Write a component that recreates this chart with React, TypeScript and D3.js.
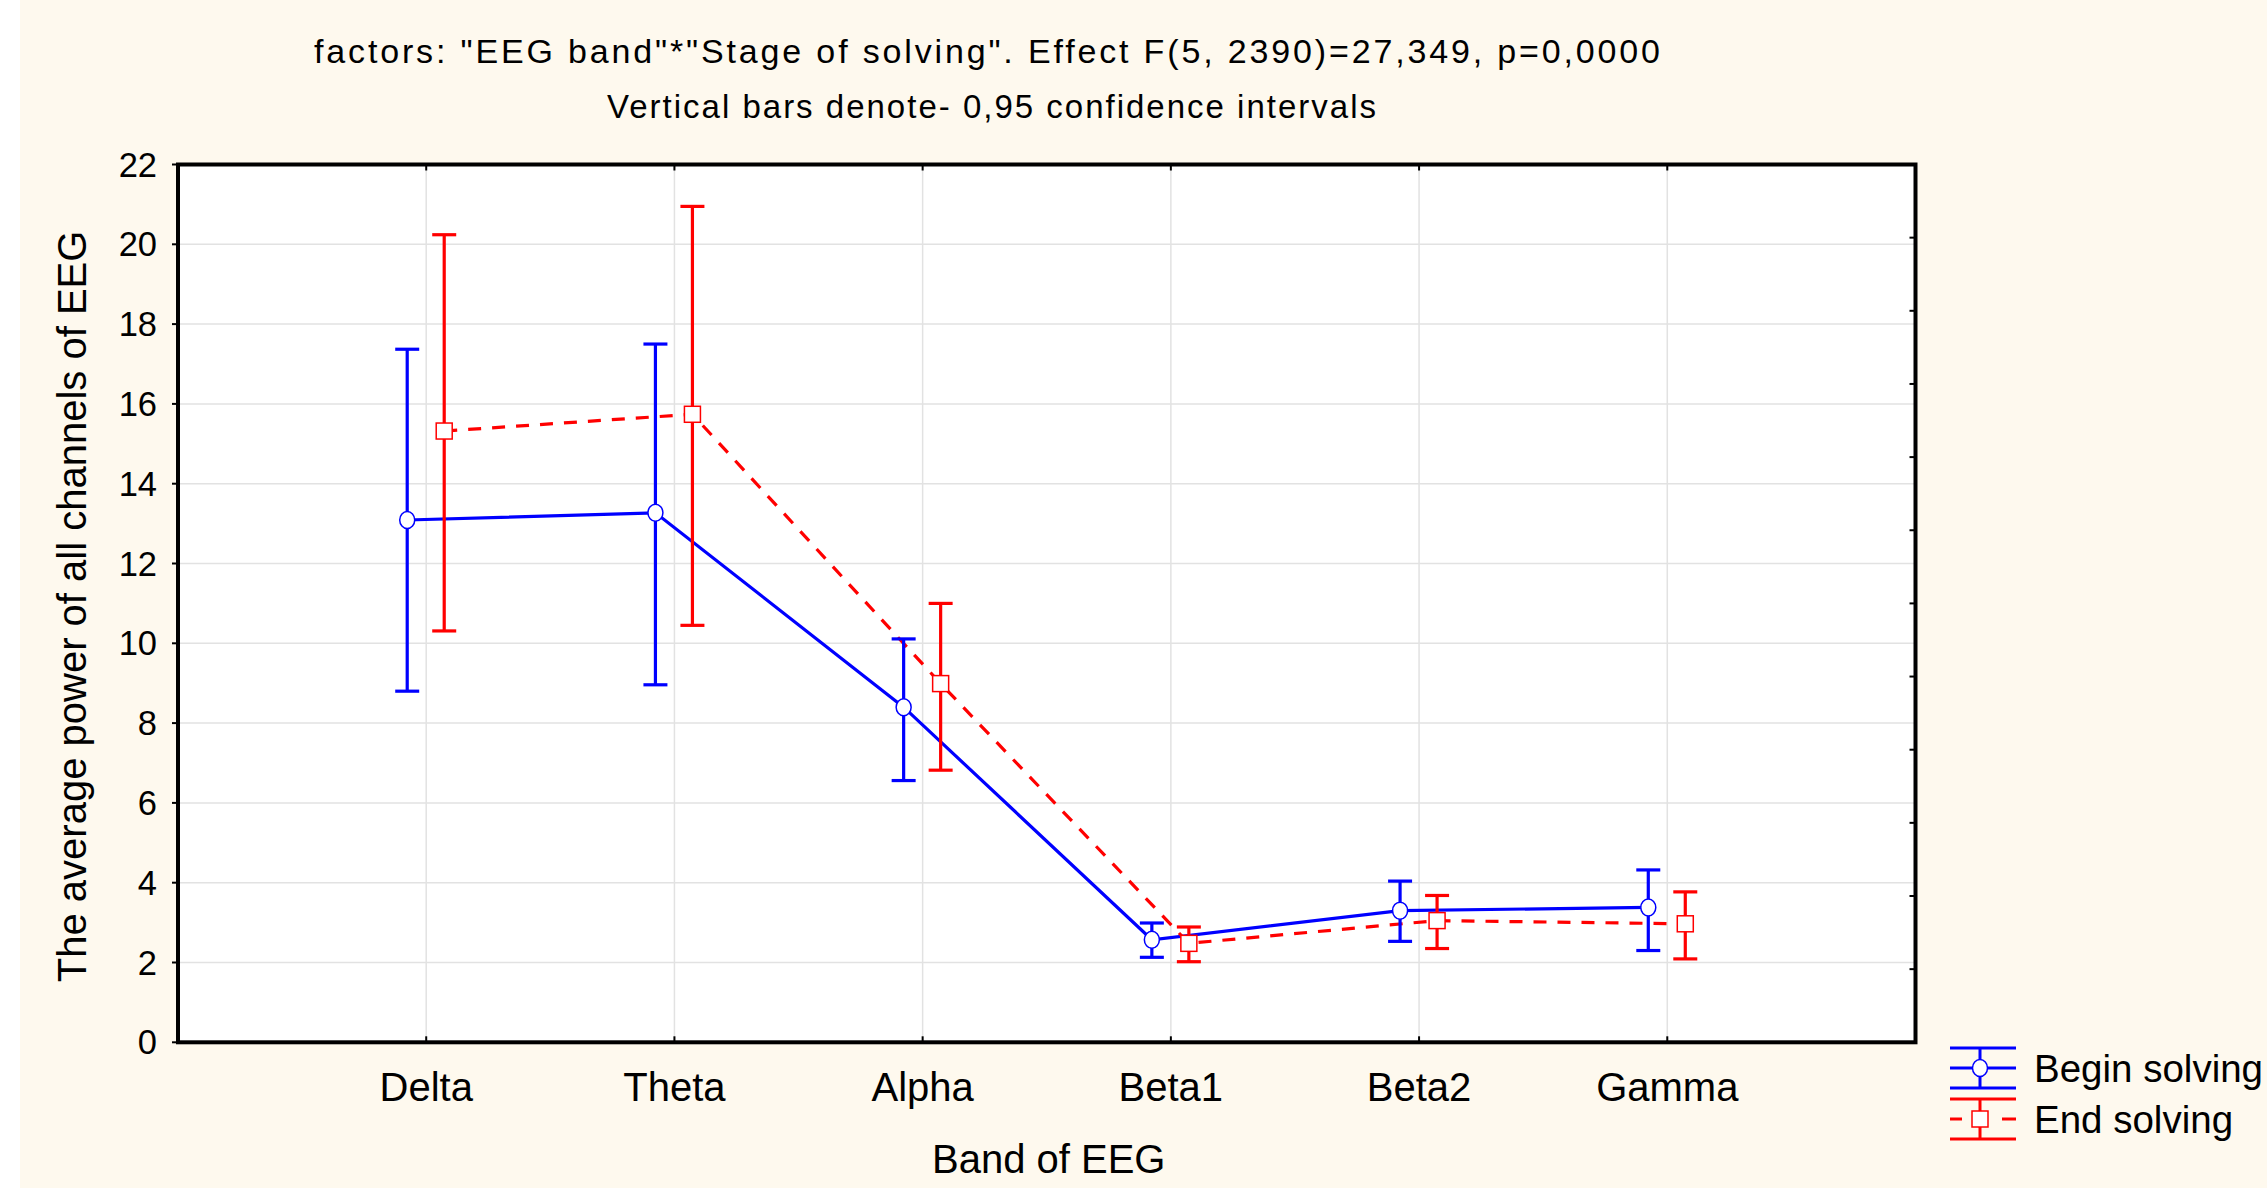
import React from "react";
import * as d3 from "d3";

// values
const bands = ["Delta", "Theta", "Alpha", "Beta1", "Beta2", "Gamma"];
const beginMean = [13.09, 13.27, 8.4, 2.57, 3.3, 3.38];
const beginLow = [8.8, 8.96, 6.56, 2.13, 2.53, 2.3];
const beginHigh = [17.37, 17.5, 10.11, 2.99, 4.04, 4.32];
const endMean = [15.32, 15.74, 8.99, 2.48, 3.05, 2.97];
const endLow = [10.31, 10.45, 6.82, 2.02, 2.35, 2.09];
const endHigh = [20.24, 20.95, 11.0, 2.89, 3.68, 3.77];
const yTicks = [0, 2, 4, 6, 8, 10, 12, 14, 16, 18, 20, 22];

const titleText = 'factors: "EEG band"*"Stage of solving". Effect F(5, 2390)=27,349, p=0,0000';
const subtitleText = "Vertical bars denote- 0,95 confidence intervals";
const xTitle = "Band of EEG";
const yTitle = "The average power of all channels of EEG";
const seriesNames = ["Begin solving", "End solving"];

const width = 2267;
const height = 1188;
const plot = { left: 178, right: 1915.5, top: 164.5, bottom: 1042.3 };
const font = "'Liberation Sans', Arial, sans-serif";
const BLUE = "#0000ff";
const RED = "#ff0000";

export default function App() {
  const x = d3
    .scalePoint<string>()
    .domain(bands)
    .range([plot.left, plot.right])
    .padding(1);
  const y = d3.scaleLinear().domain([0, 22]).range([plot.bottom, plot.top]);
  const yRight = d3.scaleLinear().domain([0, 12]).range([plot.bottom, plot.top]);

  const series = [
    { name: seriesNames[0], mean: beginMean, lo: beginLow, hi: beginHigh, color: BLUE, off: -19, dash: null, marker: "circle" },
    { name: seriesNames[1], mean: endMean, lo: endLow, hi: endHigh, color: RED, off: 18, dash: "13,11", marker: "square" },
  ];

  const line = (s: any) =>
    d3
      .line<number>()
      .x((_, i) => (x(bands[i]) as number) + s.off)
      .y((d) => y(d))(s.mean) as string;

  const capW = 12;

  const marker = (s: any, cx: number, cy: number, key: string) =>
    s.marker === "circle" ? (
      <ellipse key={key} cx={cx} cy={cy} rx={7.5} ry={8.5} fill="#fff" stroke={s.color} strokeWidth={1.5} />
    ) : (
      <rect key={key} x={cx - 8} y={cy - 8} width={16} height={16} fill="#fff" stroke={s.color} strokeWidth={1.5} />
    );

  return (
    <svg
      width={width}
      height={height}
      style={{ position: "absolute", left: 0, top: 0, display: "block" }}
      fontFamily={font}
    >
      <rect x={0} y={0} width={width} height={height} fill="#ffffff" />
      <rect x={20} y={0} width={width - 20} height={height} fill="#fef9ee" />

      {/* titles */}
      <text x={314} y={63} fontSize={34} fill="#000" textLength={1346} lengthAdjust="spacing">
        {titleText}
      </text>
      <text x={607} y={118} fontSize={33} fill="#000" textLength={769} lengthAdjust="spacing">
        {subtitleText}
      </text>

      {/* plot area */}
      <rect x={plot.left} y={plot.top} width={plot.right - plot.left} height={plot.bottom - plot.top} fill="#fff" />

      {/* grid */}
      {yTicks.slice(1, -1).map((t) => (
        <line key={"gy" + t} x1={plot.left} x2={plot.right} y1={y(t)} y2={y(t)} stroke="#e2e2e2" strokeWidth={1.5} />
      ))}
      {bands.map((b) => (
        <line key={"gx" + b} x1={x(b)} x2={x(b)} y1={plot.top} y2={plot.bottom} stroke="#e2e2e2" strokeWidth={1.5} />
      ))}

      {/* series lines */}
      {series.map((s) => (
        <path
          key={"l" + s.name}
          d={line(s)}
          fill="none"
          stroke={s.color}
          strokeWidth={3.2}
          strokeDasharray={s.dash || undefined}
        />
      ))}

      {/* error bars */}
      {series.map((s) =>
        bands.map((b, i) => {
          const cx = (x(b) as number) + s.off;
          return (
            <g key={"e" + s.name + b} stroke={s.color} strokeWidth={3.2}>
              <line x1={cx} x2={cx} y1={y(s.hi[i])} y2={y(s.lo[i])} />
              <line x1={cx - capW} x2={cx + capW} y1={y(s.hi[i])} y2={y(s.hi[i])} />
              <line x1={cx - capW} x2={cx + capW} y1={y(s.lo[i])} y2={y(s.lo[i])} />
            </g>
          );
        })
      )}

      {/* markers */}
      {series.map((s) =>
        bands.map((b, i) => marker(s, (x(b) as number) + s.off, y(s.mean[i]), "m" + s.name + b))
      )}

      {/* frame and ticks */}
      <rect
        x={plot.left}
        y={plot.top}
        width={plot.right - plot.left}
        height={plot.bottom - plot.top}
        fill="none"
        stroke="#000"
        strokeWidth={4}
      />
      {yTicks.map((t) => (
        <line key={"ty" + t} x1={plot.left - 6} x2={plot.left} y1={y(t)} y2={y(t)} stroke="#000" strokeWidth={2} />
      ))}
      {yRight.ticks(12).slice(1, -1).map((t) => (
        <line key={"tr" + t} x1={plot.right - 6} x2={plot.right} y1={yRight(t)} y2={yRight(t)} stroke="#000" strokeWidth={2} />
      ))}
      {bands.map((b) => (
        <g key={"tx" + b} stroke="#000" strokeWidth={2}>
          <line x1={x(b)} x2={x(b)} y1={plot.bottom} y2={plot.bottom - 6} />
          <line x1={x(b)} x2={x(b)} y1={plot.top} y2={plot.top + 6} />
        </g>
      ))}

      {/* tick labels */}
      {yTicks.map((t) => (
        <text key={"ly" + t} x={157} y={y(t) + 12} fontSize={34.5} textAnchor="end" fill="#000">
          {t}
        </text>
      ))}
      {bands.map((b) => (
        <text key={"lx" + b} x={x(b)} y={1101} fontSize={40} textAnchor="middle" fill="#000">
          {b}
        </text>
      ))}

      {/* axis titles */}
      <text x={(plot.left + plot.right) / 2 + 2} y={1173} fontSize={40} textAnchor="middle" fill="#000">
        {xTitle}
      </text>
      <text
        transform={`translate(86,${(plot.top + plot.bottom) / 2 + 3}) rotate(-90)`}
        fontSize={40}
        textAnchor="middle"
        fill="#000"
      >
        {yTitle}
      </text>

      {/* legend */}
      {series.map((s, i) => {
        const cy = 1068 + i * 51;
        const x0 = 1950;
        const x1 = 2016;
        const cx = 1980;
        return (
          <g key={"lg" + s.name}>
            <g stroke={s.color} strokeWidth={3}>
              <line x1={x0} x2={x1} y1={cy - 20} y2={cy - 20} />
              <line x1={x0} x2={x1} y1={cy + 20} y2={cy + 20} />
              <line x1={cx} x2={cx} y1={cy - 20} y2={cy + 20} />
              {s.dash ? (
                <>
                  <line x1={x0} x2={x0 + 12} y1={cy} y2={cy} />
                  <line x1={x1 - 14} x2={x1} y1={cy} y2={cy} />
                </>
              ) : (
                <line x1={x0} x2={x1} y1={cy} y2={cy} />
              )}
            </g>
            {marker(s, cx, cy, "lm" + s.name)}
            <text x={2034} y={cy + 14} fontSize={38.5} fill="#000">
              {s.name}
            </text>
          </g>
        );
      })}
    </svg>
  );
}
